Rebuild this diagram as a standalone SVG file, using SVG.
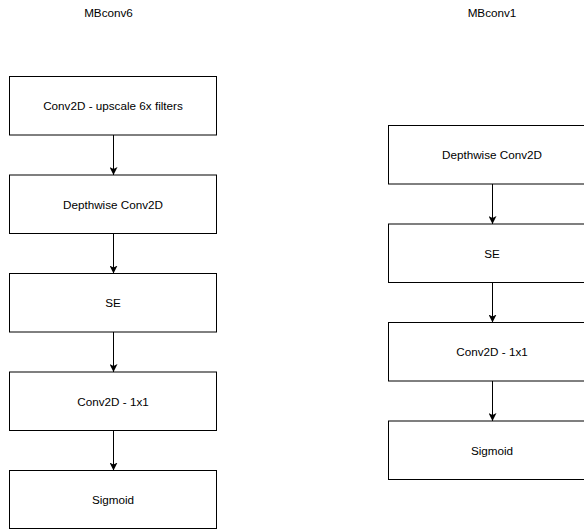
<svg xmlns="http://www.w3.org/2000/svg" width="584" height="530" viewBox="0 0 584 530">
  <style>
    .box { fill: #ffffff; stroke: #000000; stroke-width: 1; }
    .lbl { font-family: "Liberation Sans", Arial, sans-serif; font-size: 11.7px; fill: #000000; text-anchor: middle; }
    .edge { fill: none; stroke: #000000; stroke-width: 1; marker-end: url(#arrow); }
  </style>
  <defs>
    <marker id="arrow" viewBox="0 0 8 8" refX="8" refY="4" markerWidth="8" markerHeight="8" markerUnits="userSpaceOnUse" orient="auto">
      <path d="M0,0 L8,4 L0,8 L2,4 Z" fill="#000000"/>
    </marker>
  </defs>
  <rect width="584" height="530" fill="#ffffff"/>

  <!-- column titles -->
  <text class="lbl" x="108.5" y="16.5">MBconv6</text>
  <text class="lbl" x="492" y="16.5">MBconv1</text>

  <!-- MBconv6 column -->
  <g id="l-conv-upscale">
    <rect class="box" x="9.5" y="76.5" width="207" height="58.5"/>
    <text class="lbl" x="113" y="110">Conv2D - upscale 6x filters</text>
  </g>
  <g id="l-depthwise">
    <rect class="box" x="9.5" y="175" width="207" height="58.5"/>
    <text class="lbl" x="113" y="208.5">Depthwise Conv2D</text>
  </g>
  <g id="l-se">
    <rect class="box" x="9.5" y="273.5" width="207" height="58.5"/>
    <text class="lbl" x="113" y="307">SE</text>
  </g>
  <g id="l-conv-1x1">
    <rect class="box" x="9.5" y="372" width="207" height="58.5"/>
    <text class="lbl" x="113" y="405.5">Conv2D - 1x1</text>
  </g>
  <g id="l-sigmoid">
    <rect class="box" x="9.5" y="470.5" width="207" height="58"/>
    <text class="lbl" x="113" y="504">Sigmoid</text>
  </g>

  <!-- MBconv1 column -->
  <g id="r-depthwise">
    <rect class="box" x="388.5" y="125.5" width="207" height="58.5"/>
    <text class="lbl" x="492" y="159">Depthwise Conv2D</text>
  </g>
  <g id="r-se">
    <rect class="box" x="388.5" y="224" width="207" height="58.5"/>
    <text class="lbl" x="492" y="257.5">SE</text>
  </g>
  <g id="r-conv-1x1">
    <rect class="box" x="388.5" y="322.5" width="207" height="58.5"/>
    <text class="lbl" x="492" y="356">Conv2D - 1x1</text>
  </g>
  <g id="r-sigmoid">
    <rect class="box" x="388.5" y="421" width="207" height="58.5"/>
    <text class="lbl" x="492" y="454.5">Sigmoid</text>
  </g>

  <!-- connectors -->
  <g id="connectors">
    <path class="edge" d="M113.5,135 V175"/>
    <path class="edge" d="M113.5,233.5 V273.5"/>
    <path class="edge" d="M113.5,332 V372"/>
    <path class="edge" d="M113.5,430.5 V470.5"/>
    <path class="edge" d="M492.5,184 V224"/>
    <path class="edge" d="M492.5,282.5 V322.5"/>
    <path class="edge" d="M492.5,381 V421"/>
  </g>
</svg>
